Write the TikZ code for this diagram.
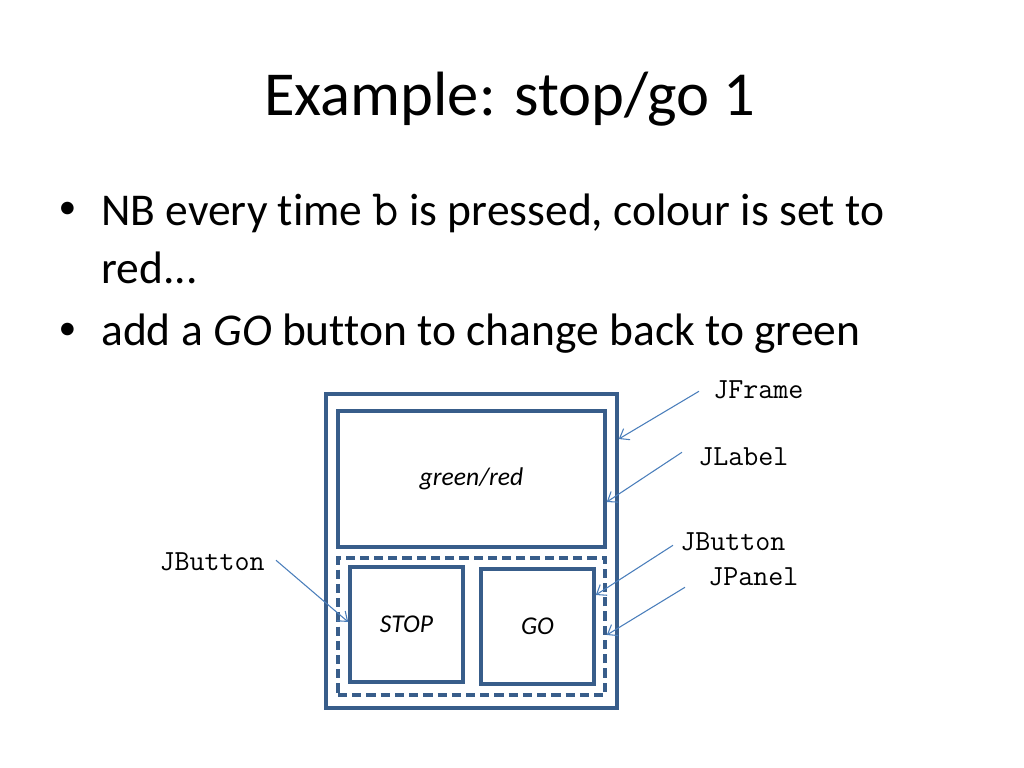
\documentclass[tikz,border=0pt]{standalone}
\usepackage{fontspec}
\setmainfont{Carlito}[Ligatures=NoCommon]
\usetikzlibrary{arrows.meta,fit}
\definecolor{BoxClr}{RGB}{56,93,138}
\definecolor{ArrowClr}{RGB}{74,126,187}

\begin{document}
\begin{tikzpicture}[x=0.703125pt,y=-0.703125pt,
  box/.style={draw=BoxClr,line width=2.5pt,inner sep=0pt},
  panelbox/.style={box,dash pattern=on 6.5pt off 3.5pt},
  pointer/.style={draw=ArrowClr,line width=0.75pt,-{Straight Barb[length=6pt,width=9pt]}},
  widget/.style={font=\fontsize{20.5}{24}\selectfont\ttfamily,inner sep=0pt},
  caption/.style={font=\fontsize{18}{22}\selectfont\itshape,inner sep=0pt},
  bullet/.style={font=\fontsize{32}{39}\selectfont,inner sep=0pt,anchor=base west}]
\useasboundingbox (0,0) rectangle (1024,768);

\node[anchor=base,font=\fontsize{44}{53}\selectfont,inner sep=0pt] (title) at (510,116) {Example: stop/go 1};

\node[font=\fontsize{25}{30}\selectfont,inner sep=0pt] (dot1) at (67.5,210) {•};
\node[bullet] (item1) at (101,226) {NB every time {\ttfamily\fontsize{36}{39}\selectfont b} is pressed, colour is set to};
\node[bullet] (item1b) at (101,283) {red...};
\node[font=\fontsize{25}{30}\selectfont,inner sep=0pt] (dot2) at (67.5,331) {•};
\node[bullet] (item2) at (101,346) {add a \textit{GO} button to change back to green};

% the window
\node[box,fit={(326,394) (617,708)}] (frame) {};
\node[box,fit={(338,411) (605,547)}] (label) {};
\node[panelbox,fit={(338,558) (605,695)}] (panel) {};
\node[box,fit={(350,567) (463,682)}] (stop) {};
\node[box,fit={(481,569) (594,684)}] (go) {};

\node[caption] (labeltext) at (label.center) {green/red};
\node[caption] (stoptext) at (stop.center) {STOP};
\node[caption] (gotext) at (go.center) {GO};

% class names
\node[widget,anchor=base west] (lframe) at (713,398) {JFrame};
\node[widget,anchor=base west] (llabel) at (698,465) {JLabel};
\node[widget,anchor=base west] (lgo) at (680,550) {JButton};
\node[widget,anchor=base west] (lpanel) at (708,585) {JPanel};
\node[widget,anchor=base east] (lstop) at (265,570) {JButton};

\coordinate (tframe) at (frame.east |- 0,439);
\coordinate (tlabel) at (label.east |- 0,502);
\coordinate (tgo) at (go.east |- 0,595);
\coordinate (tpanel) at (panel.east |- 0,635);
\coordinate (tstop) at (stop.west |- 0,622);

\draw[pointer] ([shift={(-14,2)}]lframe.west) -- (tframe);
\draw[pointer] ([shift={(-16,-4)}]llabel.west) -- (tlabel);
\draw[pointer] ([shift={(-7,4)}]lgo.west) -- (tgo);
\draw[pointer] ([shift={(-23,11)}]lpanel.west) -- (tpanel);
\draw[pointer] ([shift={(11,-1)}]lstop.east) -- (tstop);

\end{tikzpicture}
\end{document}
